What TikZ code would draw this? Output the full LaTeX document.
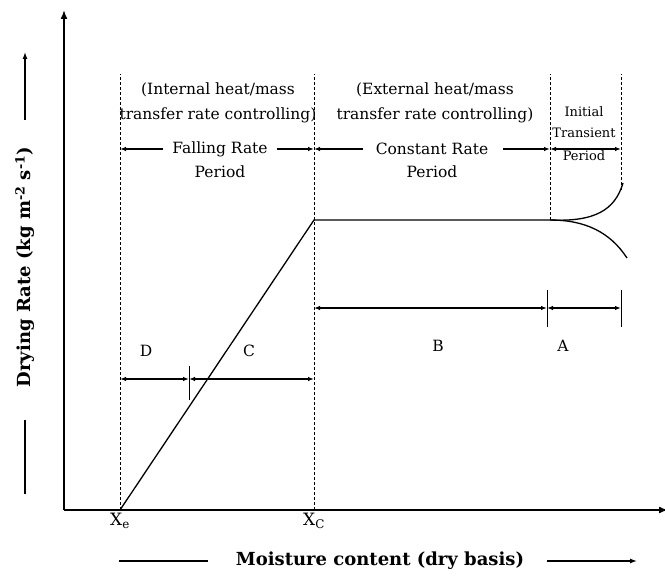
\documentclass[tikz,border=0pt]{standalone}
\usepackage{amsmath}
\usepackage{fontspec}
\setmainfont{DejaVu Serif}
\usepackage{tikz}
\usetikzlibrary{arrows.meta}

\begin{document}
\begin{tikzpicture}[x=1pt,y=-1pt,
                    axis/.style={line width=1.5pt},
                    guide/.style={densely dashed, line width=1pt},
                    dim/.style={{Latex[length=6pt,width=4.5pt]}-{Latex[length=6pt,width=4.5pt]}, line width=1.3pt},
                    half/.style={-{Latex[length=6pt,width=4.5pt]}, line width=1.3pt},
                    txt/.style={font=\fontsize{15.5}{17}\selectfont, inner sep=1pt, align=center},
                    tiny/.style={font=\fontsize{13}{14}\selectfont, inner sep=0pt, align=center},
                    bold/.style={font=\fontsize{18}{20}\selectfont\bfseries, inner sep=1pt}]
    \useasboundingbox (0,0) rectangle (665,577);
    % axes
    \coordinate (o) at (64,510);
    \coordinate (ytop) at (64,10);
    \coordinate (xend) at (668,510);
    \draw[axis, -{Latex[length=9pt,width=7pt]}] (o) -- (ytop);
    \draw[axis, -{Latex[length=9pt,width=7pt]}] (o) -- (xend);
    % period boundaries
    \coordinate (xe) at (120,510);
    \coordinate (xc) at (314,510);
    \coordinate (xb) at (550,220);
    \coordinate (xa) at (621,190);
    \coordinate (xetop) at (120,74);
    \coordinate (xctop) at (314,74);
    \coordinate (xbtop) at (550,74);
    \coordinate (xatop) at (621,74);
    \draw[guide] (xe) -- (xetop);
    \draw[guide] (xc) -- (xctop);
    \draw[guide] (xb) -- (xbtop);
    \draw[guide] (xa) -- (xatop);
    % drying curve
    \coordinate (crit) at (314,220);
    \draw[line width=1.3pt] (xe) -- (crit) -- (xb);
    \coordinate (up) at (623,183);
    \coordinate (down) at (627,258);
    \draw[line width=1.3pt] (xb) .. controls (595,222) and (615,210) .. (up);
    \draw[line width=1.3pt] (xb) .. controls (585,220) and (610,232) .. (down);
    % period texts
    \node[txt] (int1) at (218,90) {(Internal heat/mass};
    \node[txt] (int2) at (218,115) {transfer rate controlling)};
    \node[txt] (fall) at (220,149) {Falling Rate};
    \node[txt] (fallp) at (220,172) {Period};
    \node[txt] (ext1) at (435,90) {(External heat/mass};
    \node[txt] (ext2) at (435,115) {transfer rate controlling)};
    \node[txt] (const) at (432,149) {Constant Rate};
    \node[txt] (constp) at (432,172) {Period};
    \node[tiny] (init1) at (584,112) {Initial};
    \node[tiny] (init2) at (584,133) {Transient};
    \node[tiny] (init3) at (584,156) {Period};
    \coordinate (fl) at (120,149);
    \coordinate (fr) at (314,149);
    \coordinate (cl) at (314,149);
    \coordinate (cr) at (550,149);
    \coordinate (il) at (550,149);
    \coordinate (ir) at (621,149);
    \draw[half] (fall.west) ++(-8,0) -- (fl);
    \draw[half] (fall.east) ++(8,0) -- (fr);
    \draw[half] (const.west) ++(-12,0) -- (cl);
    \draw[half] (const.east) ++(14,0) -- (cr);
    \draw[dim] (il) -- (ir);
    % regions A and B
    \coordinate (bl) at (314,308);
    \coordinate (bm) at (547,308);
    \coordinate (ar) at (621,308);
    \draw[dim] (bl) -- (bm);
    \draw[dim] (bm) -- (ar);
    \draw[line width=1pt] (547,290) -- (547,327);
    \draw[line width=1pt] (621,290) -- (621,327);
    \node[txt] (b) at (438,346) {B};
    \node[txt] (a) at (563,346) {A};
    % regions C and D
    \coordinate (dl) at (120,379);
    \coordinate (dm) at (189,379);
    \coordinate (cre) at (314,379);
    \draw[dim] (dl) -- (dm);
    \draw[dim] (dm) -- (cre);
    \draw[line width=1pt] (189,366) -- (189,400);
    \node[txt] (d) at (146,351) {D};
    \node[txt] (c) at (249,351) {C};
    % axis labels
    \node[txt, font=\fontsize{17}{19}\selectfont, below=2pt] (xelab) at (xe) {X\textsubscript{e}};
    \node[txt, font=\fontsize{17}{19}\selectfont, below=2pt] (xclab) at (xc) {X\textsubscript{C}};
    \node[bold, rotate=90] (ylab) at (25,267) {Drying Rate (kg m\textsuperscript{-2} s\textsuperscript{-1})};
    \coordinate (ya1) at (25,120);
    \coordinate (ya2) at (25,52);
    \coordinate (yl1) at (25,420);
    \coordinate (yl2) at (25,494);
    \draw[line width=1.3pt, -{Latex[length=7pt,width=5pt]}] (ya1) -- (ya2);
    \draw[line width=1.3pt] (yl1) -- (yl2);
    \node[bold] (xlab) at (380,561) {Moisture content (dry basis)};
    \coordinate (xl1) at (119,561);
    \coordinate (xl2) at (208,561);
    \coordinate (xa1) at (547,561);
    \coordinate (xa2) at (637,561);
    \draw[line width=1.3pt] (xl1) -- (xl2);
    \draw[line width=1.3pt, -{Latex[length=7pt,width=5pt]}] (xa1) -- (xa2);
\end{tikzpicture}
\end{document}
